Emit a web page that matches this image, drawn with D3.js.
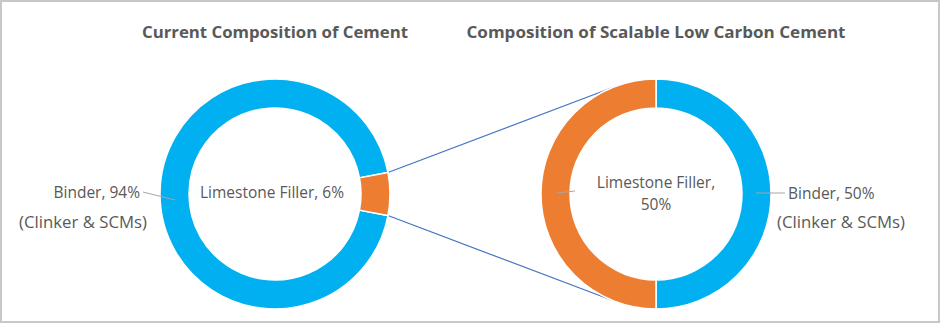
<!DOCTYPE html>
<html>
<head>
<meta charset="utf-8">
<script src="https://cdn.jsdelivr.net/npm/d3@7"></script>
<style>
  html, body { margin: 0; padding: 0; background: #fff; }
  svg text { font-family: "Open Sans", "Noto Sans", sans-serif; fill: #595959; }
</style>
</head>
<body>
<svg width="943" height="329"></svg>
<script>
// data
var categories = ["Binder", "Limestone Filler"];
var currentValues = [94, 6];
var lowCarbonValues = [50, 50];
var chartTitles = ["Current Composition of Cement", "Composition of Scalable Low Carbon Cement"];
var binderNote = "(Clinker & SCMs)";

var svg = d3.select("svg"),
    width = +svg.attr("width"),
    height = +svg.attr("height");

var color = d3.scaleOrdinal()
    .domain(categories)
    .range(["#00b0f0", "#ed7d31"]);

// frame
svg.append("rect")
    .attr("x", 1).attr("y", 1)
    .attr("width", 938).attr("height", 321)
    .attr("fill", "none")
    .attr("stroke", "#c8c8c8")
    .attr("stroke-width", 2);

var outerR = 115, innerR = 86;
var left = { x: 275, y: 194 }, right = { x: 656, y: 194 };

var arc = d3.arc().innerRadius(innerR).outerRadius(outerR);

// left donut: limestone slice centred at 3 o'clock
var share = currentValues[1] / d3.sum(currentValues);
var pieLeft = d3.pie().sort(null)
    .startAngle(Math.PI / 2 + share * Math.PI)
    .endAngle(Math.PI / 2 + share * Math.PI + 2 * Math.PI);
var pieRight = d3.pie().sort(null);

var leftData = pieLeft(currentValues);
var rightData = pieRight(lowCarbonValues);

// connector lines (tangents from orange slice corners to the right donut)
var lime = leftData[1];
function corner(a) {
  return [left.x + outerR * Math.sin(a), left.y - outerR * Math.cos(a)];
}
function tangent(p, sign) {
  var dx = p[0] - right.x, dy = p[1] - right.y;
  var d = Math.sqrt(dx * dx + dy * dy);
  var base = Math.atan2(dy, dx), off = Math.acos(outerR / d);
  var a = base + sign * off;
  return [right.x + outerR * Math.cos(a), right.y + outerR * Math.sin(a)];
}
var pTop = corner(lime.startAngle),
    pBot = corner(lime.endAngle);
[[pTop, tangent(pTop, 1)], [pBot, tangent(pBot, -1)]].forEach(function(seg) {
  svg.append("line")
      .attr("x1", seg[0][0]).attr("y1", seg[0][1])
      .attr("x2", seg[1][0]).attr("y2", seg[1][1])
      .attr("stroke", "#4472c4")
      .attr("stroke-width", 1.2);
});

svg.append("g")
    .attr("transform", "translate(" + left.x + "," + left.y + ")")
  .selectAll("path")
  .data(leftData)
  .enter().append("path")
    .attr("d", arc)
    .attr("fill", function(d, i) { return color(categories[i]); })
    .attr("stroke", "#fff")
    .attr("stroke-width", 1.5);

svg.append("g")
    .attr("transform", "translate(" + right.x + "," + right.y + ")")
  .selectAll("path")
  .data(rightData)
  .enter().append("path")
    .attr("d", arc)
    .attr("fill", function(d, i) { return color(categories[i]); })
    .attr("stroke", "#fff")
    .attr("stroke-width", 1.5);

// titles
svg.selectAll(".title")
    .data(chartTitles)
  .enter().append("text")
    .attr("class", "title")
    .attr("x", function(d, i) { return i == 0 ? 275 : 656; })
    .attr("y", 38)
    .attr("text-anchor", "middle")
    .style("font-size", "16px")
    .style("font-weight", "bold")
    .attr("textLength", function(d, i) { return i == 0 ? 266 : 379; })
    .attr("lengthAdjust", "spacingAndGlyphs")
    .text(function(d) { return d; });

// leader lines
var leaders = [[143, 192, 175, 200], [557, 193, 575, 191], [756, 193, 785, 193]];
svg.selectAll(".leader")
    .data(leaders)
  .enter().append("line")
    .attr("x1", function(d) { return d[0]; })
    .attr("y1", function(d) { return d[1]; })
    .attr("x2", function(d) { return d[2]; })
    .attr("y2", function(d) { return d[3]; })
    .attr("stroke", "#a6a6a6")
    .attr("stroke-width", 1);

function label(x, y, anchor, txt, len) {
  var t = svg.append("text")
      .attr("x", x).attr("y", y)
      .attr("text-anchor", anchor)
      .style("font-size", "15.5px")
      .text(txt);
  if (len) t.attr("textLength", len).attr("lengthAdjust", "spacingAndGlyphs");
}

label(140, 198, "end", categories[0] + ", " + currentValues[0] + "%");
label(147, 228, "end", binderNote, 128);
label(272, 198, "middle", categories[1] + ", " + currentValues[1] + "%");
label(656, 188, "middle", categories[1] + ",");
label(656, 210, "middle", lowCarbonValues[1] + "%");
label(788, 199, "start", categories[0] + ", " + lowCarbonValues[0] + "%");
label(777, 228, "start", binderNote, 128);
</script>
</body>
</html>
